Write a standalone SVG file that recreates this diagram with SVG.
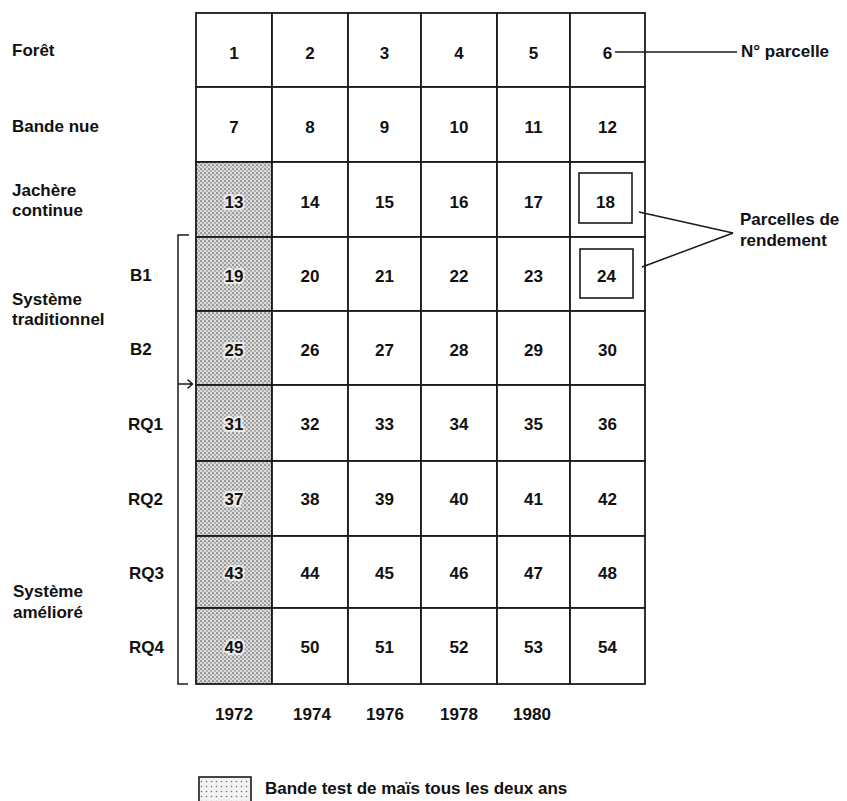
<svg xmlns="http://www.w3.org/2000/svg" width="847" height="801" viewBox="0 0 847 801">
<defs>
<pattern id="stip" width="4" height="4" patternUnits="userSpaceOnUse">
<rect width="4" height="4" fill="#dcdcdc"/>
<circle cx="1" cy="1" r="0.85" fill="#555"/>
<circle cx="3" cy="3" r="0.8" fill="#777"/>
</pattern>
<pattern id="stipL" width="5" height="5" patternUnits="userSpaceOnUse">
<rect width="5" height="5" fill="#f2f2f2"/>
<circle cx="1.5" cy="1.5" r="0.8" fill="#777"/>
</pattern>
</defs>
<style>
text{font-family:"Liberation Sans",Arial,sans-serif;font-weight:bold;font-size:17px;fill:#111}
.n{text-anchor:middle}
.h{stroke:#ececec;stroke-width:4;paint-order:stroke;stroke-linejoin:round}
.c{fill:#fff;stroke:#1a1a1a;stroke-width:1.8}
.s{fill:url(#stip);stroke:#1a1a1a;stroke-width:1.8}
.ib{fill:none;stroke:#1a1a1a;stroke-width:1.6}
.ln{fill:none;stroke:#1a1a1a;stroke-width:1.5}
</style>
<rect width="847" height="801" fill="#fff"/>

<g id="labels">
<text x="12" y="56">Forêt</text>
<text x="12" y="132">Bande nue</text>
<text x="12" y="196">Jachère</text>
<text x="12" y="216">continue</text>
<text x="130" y="281">B1</text>
<text x="12" y="305">Système</text>
<text x="12" y="325">traditionnel</text>
<text x="130" y="355">B2</text>
<text x="128" y="430">RQ1</text>
<text x="128" y="505">RQ2</text>
<text x="129" y="579">RQ3</text>
<text x="13" y="597">Système</text>
<text x="13" y="618">amélioré</text>
<text x="129" y="653">RQ4</text>
<text x="741" y="57">N° parcelle</text>
<text x="740" y="225">Parcelles de</text>
<text x="740" y="246">rendement</text>
<text class="n" x="234" y="720">1972</text>
<text class="n" x="312" y="720">1974</text>
<text class="n" x="385" y="720">1976</text>
<text class="n" x="459" y="720">1978</text>
<text class="n" x="532" y="720">1980</text>
</g>

<g id="cells">
<g id="p1"><rect class="c" x="196" y="13" width="76" height="74"/><text class="n" x="234" y="59">1</text></g>
<g id="p2"><rect class="c" x="272" y="13" width="76" height="74"/><text class="n" x="310" y="59">2</text></g>
<g id="p3"><rect class="c" x="348" y="13" width="73" height="74"/><text class="n" x="384.5" y="59">3</text></g>
<g id="p4"><rect class="c" x="421" y="13" width="76" height="74"/><text class="n" x="459" y="59">4</text></g>
<g id="p5"><rect class="c" x="497" y="13" width="73" height="74"/><text class="n" x="533.5" y="59">5</text></g>
<g id="p6"><rect class="c" x="570" y="13" width="75" height="74"/><text class="n" x="607.5" y="59">6</text></g>

<g id="p7"><rect class="c" x="196" y="87" width="76" height="75"/><text class="n" x="234" y="133">7</text></g>
<g id="p8"><rect class="c" x="272" y="87" width="76" height="75"/><text class="n" x="310" y="133">8</text></g>
<g id="p9"><rect class="c" x="348" y="87" width="73" height="75"/><text class="n" x="384.5" y="133">9</text></g>
<g id="p10"><rect class="c" x="421" y="87" width="76" height="75"/><text class="n" x="459" y="133">10</text></g>
<g id="p11"><rect class="c" x="497" y="87" width="73" height="75"/><text class="n" x="533.5" y="133">11</text></g>
<g id="p12"><rect class="c" x="570" y="87" width="75" height="75"/><text class="n" x="607.5" y="133">12</text></g>

<g id="p13"><rect class="s" x="196" y="162" width="76" height="75"/><text class="n h" x="234" y="208">13</text></g>
<g id="p14"><rect class="c" x="272" y="162" width="76" height="75"/><text class="n" x="310" y="208">14</text></g>
<g id="p15"><rect class="c" x="348" y="162" width="73" height="75"/><text class="n" x="384.5" y="208">15</text></g>
<g id="p16"><rect class="c" x="421" y="162" width="76" height="75"/><text class="n" x="459" y="208">16</text></g>
<g id="p17"><rect class="c" x="497" y="162" width="73" height="75"/><text class="n" x="533.5" y="208">17</text></g>
<g id="p18"><rect class="c" x="570" y="162" width="75" height="75"/><rect class="ib" x="579" y="173" width="53" height="50"/><text class="n" x="605.5" y="208">18</text></g>

<g id="p19"><rect class="s" x="196" y="237" width="76" height="74"/><text class="n h" x="234" y="282">19</text></g>
<g id="p20"><rect class="c" x="272" y="237" width="76" height="74"/><text class="n" x="310" y="282">20</text></g>
<g id="p21"><rect class="c" x="348" y="237" width="73" height="74"/><text class="n" x="384.5" y="282">21</text></g>
<g id="p22"><rect class="c" x="421" y="237" width="76" height="74"/><text class="n" x="459" y="282">22</text></g>
<g id="p23"><rect class="c" x="497" y="237" width="73" height="74"/><text class="n" x="533.5" y="282">23</text></g>
<g id="p24"><rect class="c" x="570" y="237" width="75" height="74"/><rect class="ib" x="580" y="249" width="53" height="49"/><text class="n" x="606.5" y="282">24</text></g>

<g id="p25"><rect class="s" x="196" y="311" width="76" height="74"/><text class="n h" x="234" y="356">25</text></g>
<g id="p26"><rect class="c" x="272" y="311" width="76" height="74"/><text class="n" x="310" y="356">26</text></g>
<g id="p27"><rect class="c" x="348" y="311" width="73" height="74"/><text class="n" x="384.5" y="356">27</text></g>
<g id="p28"><rect class="c" x="421" y="311" width="76" height="74"/><text class="n" x="459" y="356">28</text></g>
<g id="p29"><rect class="c" x="497" y="311" width="73" height="74"/><text class="n" x="533.5" y="356">29</text></g>
<g id="p30"><rect class="c" x="570" y="311" width="75" height="74"/><text class="n" x="607.5" y="356">30</text></g>

<g id="p31"><rect class="s" x="196" y="385" width="76" height="76"/><text class="n h" x="234" y="430">31</text></g>
<g id="p32"><rect class="c" x="272" y="385" width="76" height="76"/><text class="n" x="310" y="430">32</text></g>
<g id="p33"><rect class="c" x="348" y="385" width="73" height="76"/><text class="n" x="384.5" y="430">33</text></g>
<g id="p34"><rect class="c" x="421" y="385" width="76" height="76"/><text class="n" x="459" y="430">34</text></g>
<g id="p35"><rect class="c" x="497" y="385" width="73" height="76"/><text class="n" x="533.5" y="430">35</text></g>
<g id="p36"><rect class="c" x="570" y="385" width="75" height="76"/><text class="n" x="607.5" y="430">36</text></g>

<g id="p37"><rect class="s" x="196" y="461" width="76" height="75"/><text class="n h" x="234" y="505">37</text></g>
<g id="p38"><rect class="c" x="272" y="461" width="76" height="75"/><text class="n" x="310" y="505">38</text></g>
<g id="p39"><rect class="c" x="348" y="461" width="73" height="75"/><text class="n" x="384.5" y="505">39</text></g>
<g id="p40"><rect class="c" x="421" y="461" width="76" height="75"/><text class="n" x="459" y="505">40</text></g>
<g id="p41"><rect class="c" x="497" y="461" width="73" height="75"/><text class="n" x="533.5" y="505">41</text></g>
<g id="p42"><rect class="c" x="570" y="461" width="75" height="75"/><text class="n" x="607.5" y="505">42</text></g>

<g id="p43"><rect class="s" x="196" y="536" width="76" height="72"/><text class="n h" x="234" y="579">43</text></g>
<g id="p44"><rect class="c" x="272" y="536" width="76" height="72"/><text class="n" x="310" y="579">44</text></g>
<g id="p45"><rect class="c" x="348" y="536" width="73" height="72"/><text class="n" x="384.5" y="579">45</text></g>
<g id="p46"><rect class="c" x="421" y="536" width="76" height="72"/><text class="n" x="459" y="579">46</text></g>
<g id="p47"><rect class="c" x="497" y="536" width="73" height="72"/><text class="n" x="533.5" y="579">47</text></g>
<g id="p48"><rect class="c" x="570" y="536" width="75" height="72"/><text class="n" x="607.5" y="579">48</text></g>

<g id="p49"><rect class="s" x="196" y="608" width="76" height="76"/><text class="n h" x="234" y="653">49</text></g>
<g id="p50"><rect class="c" x="272" y="608" width="76" height="76"/><text class="n" x="310" y="653">50</text></g>
<g id="p51"><rect class="c" x="348" y="608" width="73" height="76"/><text class="n" x="384.5" y="653">51</text></g>
<g id="p52"><rect class="c" x="421" y="608" width="76" height="76"/><text class="n" x="459" y="653">52</text></g>
<g id="p53"><rect class="c" x="497" y="608" width="73" height="76"/><text class="n" x="533.5" y="653">53</text></g>
<g id="p54"><rect class="c" x="570" y="608" width="75" height="76"/><text class="n" x="607.5" y="653">54</text></g>
</g>

<g id="connectors">
<line class="ln" x1="615" y1="52" x2="737" y2="52"/>
<line class="ln" x1="639" y1="212" x2="733" y2="233"/>
<line class="ln" x1="642" y1="267" x2="733" y2="233"/>
<path class="ln" d="M189 235 H178 V684 H188"/>
<path class="ln" d="M178 384 H192 M187.5 379.5 L192.5 384 L187.5 388.5"/>
</g>

<g id="legend">
<rect x="199" y="777" width="52" height="30" fill="url(#stipL)" stroke="#1a1a1a" stroke-width="1.6"/>
<text x="265" y="794">Bande test de maïs tous les deux ans</text>
</g>
</svg>
